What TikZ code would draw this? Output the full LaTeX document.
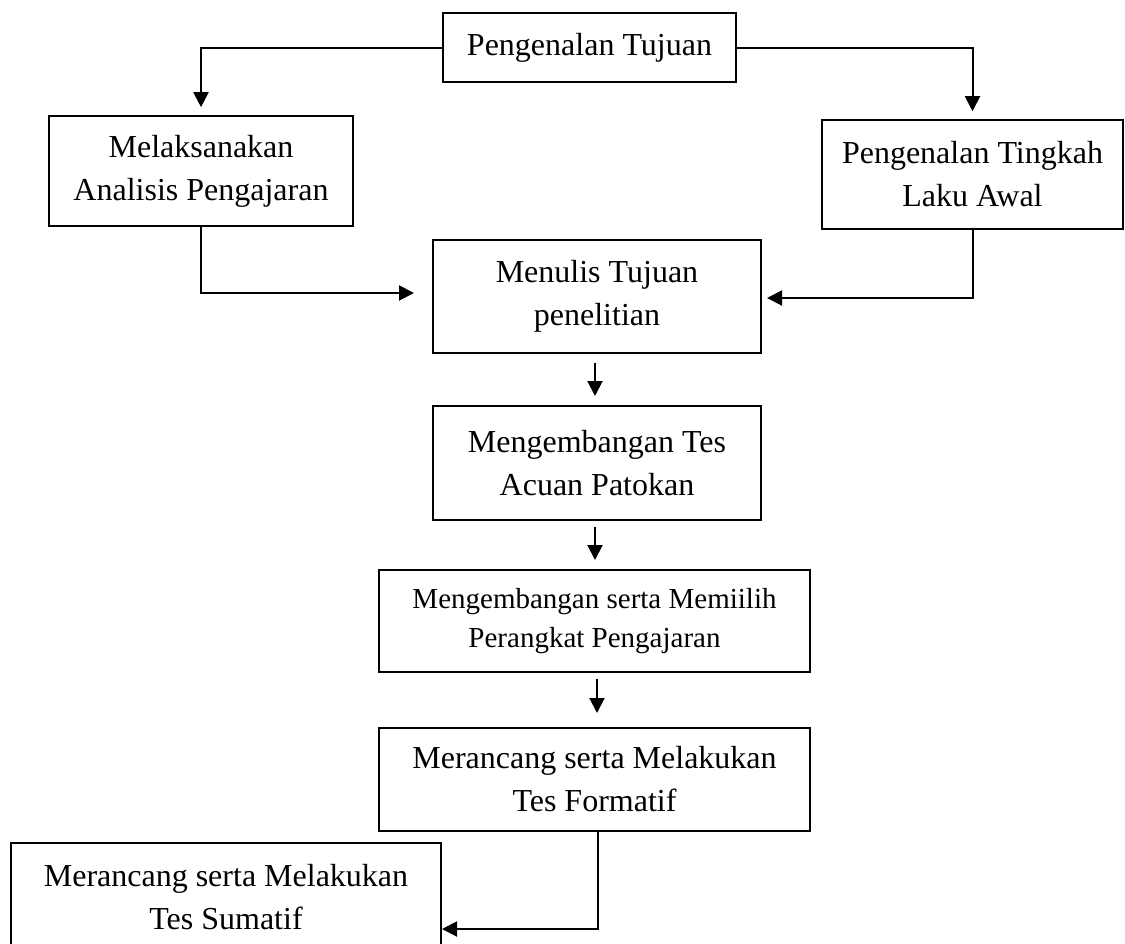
\documentclass[tikz,border=0pt]{standalone}
\usepackage{fontspec}
\setmainfont{Liberation Serif}
\usetikzlibrary{arrows.meta}
\begin{document}
\begin{tikzpicture}[x=1pt,y=-1pt,
  box/.style={draw,line width=1.6pt,inner sep=0pt,align=center,
    font=\fontsize{32}{43}\selectfont},
  smallbox/.style={box,font=\fontsize{29}{39}\selectfont},
  arr/.style={line width=2pt,-{Triangle[length=15pt,width=15pt]}}]
\useasboundingbox (0,0) rectangle (1125,943);
\clip (0,0) rectangle (1125,943);
\fill[white] (0,0) rectangle (1125,943);
\node[box,minimum width=293pt,minimum height=69pt] (top) at (589.5,47.5) {Pengenalan Tujuan};
\node[box,minimum width=304pt,minimum height=110pt] (lbox) at (201,171) {Melaksanakan\\Analisis Pengajaran};
\node[box,minimum width=301pt,minimum height=109pt] (rbox) at (972.5,174.5) {Pengenalan Tingkah\\Laku Awal};
\node[box,minimum width=328pt,minimum height=113pt] (menulis) at (597,296.5) {Menulis Tujuan\\penelitian};
\node[box,minimum width=328pt,minimum height=114pt] (tes) at (597,463) {Mengembangan Tes\\Acuan Patokan};
\node[smallbox,minimum width=431pt,minimum height=102pt] (perangkat) at (594.5,621) {Mengembangan serta Memiilih\\Perangkat Pengajaran};
\node[box,minimum width=431pt,minimum height=103pt] (formatif) at (594.5,779.5) {Merancang serta Melakukan\\Tes Formatif};
\node[box,minimum width=430pt,minimum height=108pt] (sumatif) at (226,897) {Merancang serta Melakukan\\Tes Sumatif};
% connector end points
\coordinate (mL) at (414,293);
\coordinate (mR) at (767,298);
\coordinate (a1s) at (595,363);
\coordinate (a1e) at (595,396);
\coordinate (a2s) at (595,527);
\coordinate (a2e) at (595,560);
\coordinate (a3s) at (597,679);
\coordinate (a3e) at (597,713);
\coordinate (fs) at (752,831);
\coordinate (fb) at (598,831);
\coordinate (sIn) at (442,929);
% connectors
\draw[arr,shorten >=8pt] (top.west) -| (lbox.north);
\draw[arr,shorten >=8pt] (top.east) -| (rbox.north);
\draw[arr] (lbox.south) |- (mL);
\draw[arr] (rbox.south) |- (mR);
\draw[arr] (a1s) -- (a1e);
\draw[arr] (a2s) -- (a2e);
\draw[arr] (a3s) -- (a3e);
\draw[arr] (fs) -- (fb) |- (sIn);
\end{tikzpicture}
\end{document}
